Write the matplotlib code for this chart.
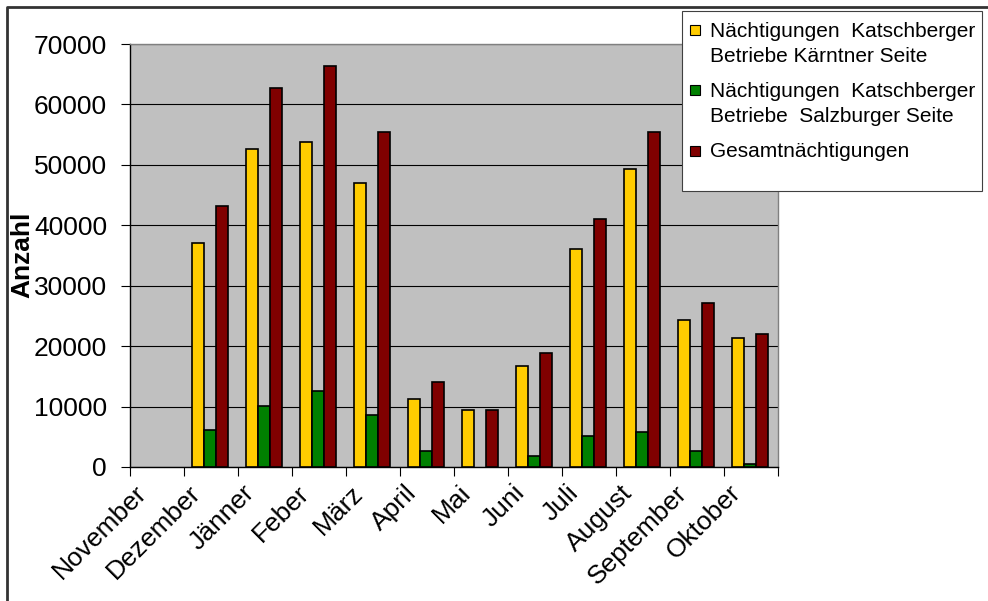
import numpy as np
import matplotlib
matplotlib.use("Agg")
import matplotlib.pyplot as plt
from matplotlib.patches import Rectangle
from matplotlib.lines import Line2D
import matplotlib.transforms as mtransforms

plt.rcParams["font.family"] = ["Liberation Sans", "DejaVu Sans"]

# Nächtigungen pro Monat
monate = ["November", "Dezember", "Jänner", "Feber", "März", "April",
          "Mai", "Juni", "Juli", "August", "September", "Oktober"]
kaernten = [0, 37000, 52600, 53700, 47000, 11300, 9400, 16700, 36000, 49300, 24300, 21400]
salzburg = [0, 6200, 10100, 12600, 8600, 2700, 0, 1900, 5100, 5800, 2600, 450]
gesamt = [0, 43200, 62800, 66400, 55500, 14000, 9400, 18800, 41000, 55500, 27100, 22000]

serien = [
    ("Nächtigungen  Katschberger\nBetriebe Kärntner Seite", kaernten, "#FFCC00"),
    ("Nächtigungen  Katschberger\nBetriebe  Salzburger Seite", salzburg, "#008000"),
    ("Gesamtnächtigungen", gesamt, "#800000"),
]

W, H = 988, 601
fig = plt.figure(figsize=(W / 100, H / 100), dpi=100)


def fx(x):
    return x / W


def fy(y):
    return 1 - y / H


# Zeichenfläche in Pixeln: links 130, oben 44, rechts 778, unten 467
ax = fig.add_axes([fx(130), fy(467), (778 - 130) / W, (467 - 44) / H])
ax.set_facecolor("#C0C0C0")

x = np.arange(len(monate))
bw = 0.226
for i, (name, werte, farbe) in enumerate(serien):
    werte = np.array(werte, dtype=float)
    sichtbar = werte > 0
    ax.bar(x[sichtbar] + (i - 1) * bw - 0.02, werte[sichtbar], width=bw, color=farbe,
           edgecolor="black", linewidth=1.2, zorder=3)

ax.set_xlim(-0.5, len(monate) - 0.5)
ax.set_ylim(0, 70000)
ax.set_yticks(np.arange(0, 70001, 10000))
ax.yaxis.grid(True, color="black", linewidth=0.8, zorder=1)
ax.set_axisbelow(True)

# Teilstriche an den Kategoriegrenzen, Beschriftung in der Mitte
ax.set_xticks(np.arange(-0.5, len(monate)), labels=[])
ax.set_xticks(x, labels=monate, minor=True)
ax.tick_params(axis="x", which="major", length=6.3, width=0.8, direction="out")
ax.tick_params(axis="x", which="minor", length=0, pad=16, labelsize=19)
ax.tick_params(axis="y", length=6.5, width=0.8, direction="out", pad=10, labelsize=19)

verschiebung = mtransforms.ScaledTranslation(-14 / 100, 0, fig.dpi_scale_trans)
for lbl in ax.get_xticklabels(minor=True):
    lbl.set_rotation(45)
    lbl.set_rotation_mode("anchor")
    lbl.set_ha("right")
    lbl.set_va("center")
    lbl.set_transform(lbl.get_transform() + verschiebung)

for s in ["left", "bottom"]:
    ax.spines[s].set_color("black")
    ax.spines[s].set_linewidth(1.0)
for s in ["top", "right"]:
    ax.spines[s].set_color("#808080")
    ax.spines[s].set_linewidth(1.0)

fig.text(fx(22), fy(255), "Anzahl", rotation=90, fontsize=19,
         fontweight="bold", ha="center", va="center")

# Legende
fig.patches.append(Rectangle((fx(682), fy(191)), (982 - 682) / W, (191 - 11) / H,
                             transform=fig.transFigure, facecolor="white",
                             edgecolor="#404040", linewidth=0.8, zorder=4))
zeilen = [
    [(36.7, "Nächtigungen  Katschberger"), (61.7, "Betriebe Kärntner Seite")],
    [(96.7, "Nächtigungen  Katschberger"), (121.7, "Betriebe  Salzburger Seite")],
    [(156.7, "Gesamtnächtigungen")],
]
quadrat_y = [25, 85, 146]
for (name, werte, farbe), txt, qy in zip(serien, zeilen, quadrat_y):
    fig.patches.append(Rectangle((fx(690), fy(qy + 10)), 10 / W, 10 / H,
                                 transform=fig.transFigure, facecolor=farbe,
                                 edgecolor="black", linewidth=0.8, zorder=5))
    for by, t in txt:
        fig.text(fx(710), fy(by), t, fontsize=15, ha="left", va="baseline", zorder=6)

# Rahmen oben und links
fig.lines.append(Line2D([fx(7), fx(7), 1], [0, fy(7), fy(7)],
                        transform=fig.transFigure, color="#333333", linewidth=2))

fig.savefig("out.png", dpi=100)
